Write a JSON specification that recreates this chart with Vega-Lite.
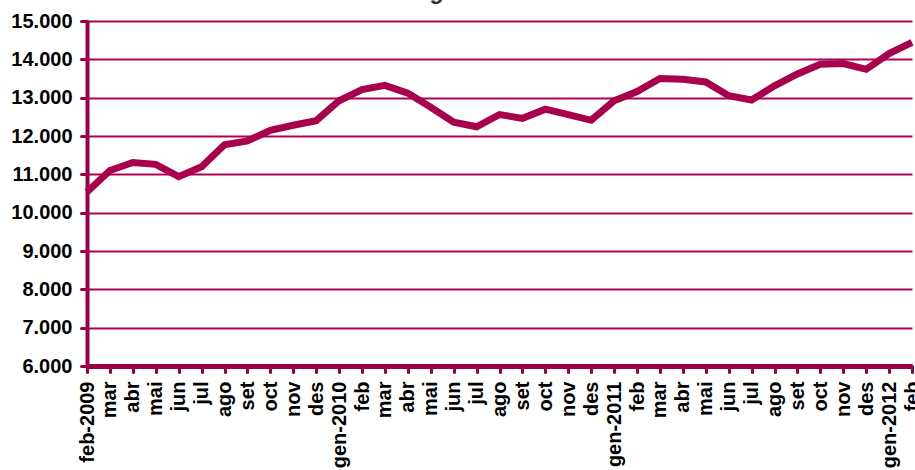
{
  "$schema": "https://vega.github.io/schema/vega-lite/v6.json",
  "autosize": "none",
  "width": 825,
  "height": 345,
  "padding": {"left": 87, "top": 21, "right": 3, "bottom": 104},
  "background": "white",
  "title": {
    "text": "Evolució de l'atur registrat. Mataró 2009-2012",
    "font": "Liberation Sans",
    "fontSize": 23,
    "fontWeight": "bold",
    "color": "#333333",
    "anchor": "middle",
    "dx": -42,
    "offset": 7
  },
  "data": {
    "values": [
      {"mes": "feb-2009", "aturats": 10540},
      {"mes": "mar-2009", "aturats": 11100},
      {"mes": "abr-2009", "aturats": 11310},
      {"mes": "mai-2009", "aturats": 11260},
      {"mes": "jun-2009", "aturats": 10940},
      {"mes": "jul-2009", "aturats": 11200},
      {"mes": "ago-2009", "aturats": 11770},
      {"mes": "set-2009", "aturats": 11870},
      {"mes": "oct-2009", "aturats": 12150},
      {"mes": "nov-2009", "aturats": 12280},
      {"mes": "des-2009", "aturats": 12400},
      {"mes": "gen-2010", "aturats": 12920},
      {"mes": "feb-2010", "aturats": 13210},
      {"mes": "mar-2010", "aturats": 13320},
      {"mes": "abr-2010", "aturats": 13120},
      {"mes": "mai-2010", "aturats": 12750},
      {"mes": "jun-2010", "aturats": 12360},
      {"mes": "jul-2010", "aturats": 12240},
      {"mes": "ago-2010", "aturats": 12560},
      {"mes": "set-2010", "aturats": 12460},
      {"mes": "oct-2010", "aturats": 12700},
      {"mes": "nov-2010", "aturats": 12560},
      {"mes": "des-2010", "aturats": 12410},
      {"mes": "gen-2011", "aturats": 12920},
      {"mes": "feb-2011", "aturats": 13160},
      {"mes": "mar-2011", "aturats": 13500},
      {"mes": "abr-2011", "aturats": 13480},
      {"mes": "mai-2011", "aturats": 13410},
      {"mes": "jun-2011", "aturats": 13050},
      {"mes": "jul-2011", "aturats": 12940},
      {"mes": "ago-2011", "aturats": 13310},
      {"mes": "set-2011", "aturats": 13620},
      {"mes": "oct-2011", "aturats": 13870},
      {"mes": "nov-2011", "aturats": 13890},
      {"mes": "des-2011", "aturats": 13740},
      {"mes": "gen-2012", "aturats": 14150},
      {"mes": "feb-2012", "aturats": 14440}
    ]
  },
  "mark": {"type": "line", "color": "#A8004C", "strokeWidth": 7, "strokeJoin": "miter", "strokeCap": "butt"},
  "encoding": {
    "x": {
      "field": "mes",
      "type": "ordinal",
      "sort": null,
      "scale": {"type": "point", "padding": 0},
      "axis": {
        "title": null,
        "labelAngle": -90,
        "labelFont": "Liberation Sans",
        "labelFontSize": 20,
        "labelFontWeight": "bold",
        "labelColor": "#000000",
        "labelPadding": 9,
        "labelOverlap": false,
        "labelExpr": "(datum.value == 'feb-2009' || indexof(datum.value, 'gen') == 0) ? datum.value : split(datum.value, '-')[0]",
        "domainColor": "#990044",
        "domainWidth": 5,
        "tickColor": "#990044",
        "tickWidth": 3,
        "tickSize": 6,
        "tickCap": "round",
        "grid": false
      }
    },
    "y": {
      "field": "aturats",
      "type": "quantitative",
      "scale": {"domain": [6000, 15000], "nice": false, "zero": false},
      "axis": {
        "title": null,
        "values": [6000, 7000, 8000, 9000, 10000, 11000, 12000, 13000, 14000, 15000],
        "labelExpr": "replace(format(datum.value, ','), ',', '.')",
        "labelFont": "Liberation Sans",
        "labelFontSize": 20,
        "labelFontWeight": "bold",
        "labelColor": "#000000",
        "labelPadding": 9,
        "labelOverlap": false,
        "domainColor": "#990044",
        "domainWidth": 4,
        "tickColor": "#990044",
        "tickWidth": 3,
        "tickSize": 6,
        "tickCap": "round",
        "grid": true,
        "gridColor": "#B0004F",
        "gridWidth": 2,
        "gridOpacity": 1
      }
    }
  },
  "config": {
    "view": {"stroke": null}
  }
}
